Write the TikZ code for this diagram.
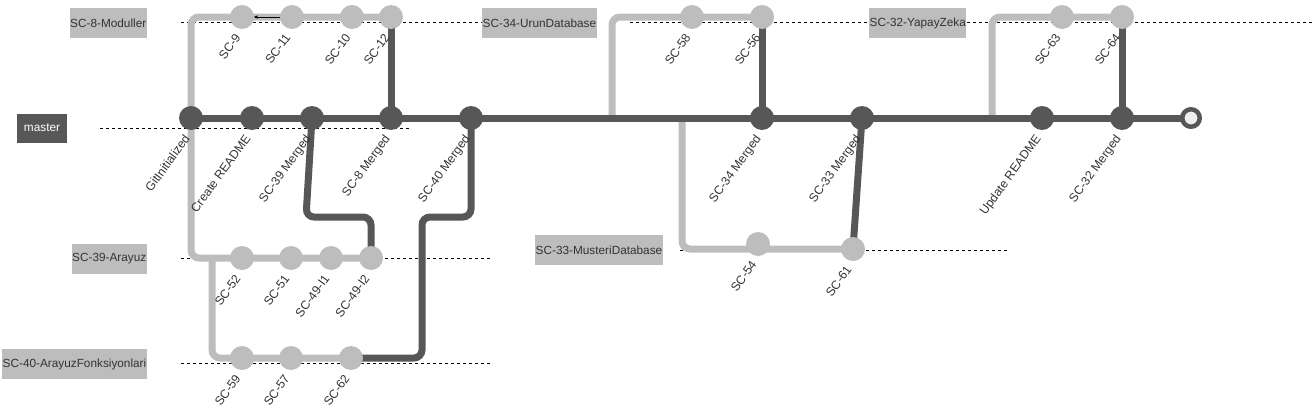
\documentclass[tikz,border=0pt]{standalone}
\usepackage{fontspec}
\setmainfont{Liberation Sans}
\usepackage{tikz}
\usetikzlibrary{arrows, backgrounds, positioning}

\definecolor{darkgit}{HTML}{575757}
\definecolor{lightgit}{HTML}{BDBDBD}
\definecolor{headfill}{HTML}{EEEEEE}
\definecolor{txtgray}{HTML}{333333}

\begin{document}
\begin{tikzpicture}[x=1pt,y=-1pt,>=stealth',line join=round]
\tikzstyle{commit}=[circle,fill=darkgit,draw=none,minimum size=24pt,inner sep=0pt]
\tikzstyle{bcommit}=[circle,fill=lightgit,draw=none,minimum size=24pt,inner sep=0pt]
\tikzstyle{lbl}=[rotate=54,anchor=north east,inner sep=1pt,text=txtgray,font=\fontsize{12.2pt}{14}\selectfont]
\tikzstyle{brbox}=[fill=lightgit,minimum height=30pt,inner xsep=0.5pt,text=txtgray]
\tikzstyle{guide}=[dash pattern=on 3pt off 3pt,line width=0.8pt,black]
\tikzstyle{mainline}=[line width=7pt,darkgit]
\tikzstyle{mline}=[line width=7pt,darkgit,rounded corners=8pt]
\tikzstyle{bline}=[line width=7pt,lightgit,rounded corners=8pt]
\tikzset{font=\fontsize{11.8pt}{14}\selectfont}

\useasboundingbox (0,0) rectangle (1312,407);

        % branch names
        \node[fill=darkgit,text=white,minimum height=29pt,minimum width=50pt]  (bm)  at (42,128)  {master};
        \node[brbox, anchor=east]                (b8)  at (147,23)   {SC-8-Moduller};
        \node[brbox, anchor=east]                (b39) at (147,259)  {SC-39-Arayuz};
        \node[brbox, anchor=east]                (b40) at (147,364)  {SC-40-ArayuzFonksiyonlari};
        \node[brbox, anchor=west]                (b34) at (482,23)   {SC-34-UrunDatabase};
        \node[brbox, anchor=west]                (b33) at (535,250)  {SC-33-MusteriDatabase};
        \node[brbox, anchor=west]                (b32) at (869,23)   {SC-32-YapayZeka};

        % master
        \node[commit]                            (m0)  at (191,118) {};
        \node[commit]                            (m1)  [right of=m0, node distance=61pt]  {};
        \node[commit]                            (m2)  [right of=m1, node distance=60pt]  {};
        \node[commit]                            (m3)  [right of=m2, node distance=79pt]  {};
        \node[commit]                            (m4)  [right of=m3, node distance=80pt]  {};
        \node[commit]                            (m5)  [right of=m4, node distance=291pt] {};
        \node[commit]                            (m6)  [right of=m5, node distance=100pt] {};
        \node[commit]                            (m7)  [right of=m6, node distance=180pt] {};
        \node[commit]                            (m8)  [right of=m7, node distance=80pt]  {};
        \node[circle,fill=headfill,draw=darkgit,line width=4.5pt,minimum size=17.5pt,inner sep=0pt] (hd) [right of=m8, node distance=69pt] {};

        % SC-8
        \node[bcommit]                           (s9)  at (242,17) {};
        \node[bcommit]                           (s11) [right of=s9,  node distance=50pt] {};
        \node[bcommit]                           (s10) [right of=s11, node distance=60pt] {};
        \node[bcommit]                           (s12) [right of=s10, node distance=39pt] {};
        % SC-39
        \node[bcommit]                           (s52) at (242,258) {};
        \node[bcommit]                           (s51) [right of=s52, node distance=49pt] {};
        \node[bcommit]                           (i1)  [right of=s51, node distance=40pt] {};
        \node[bcommit]                           (i2)  [right of=i1,  node distance=40pt] {};
        % SC-40
        \node[bcommit]                           (s59) at (242,358) {};
        \node[bcommit]                           (s57) [right of=s59, node distance=49pt] {};
        \node[bcommit]                           (s62) [right of=s57, node distance=60pt] {};
        % SC-34
        \node[bcommit]                           (s58) at (692,17) {};
        \node[bcommit]                           (s56) [right of=s58, node distance=70pt] {};
        % SC-33
        \node[bcommit]                           (s54) at (758,244) {};
        \node[bcommit]                           (s61) at (853,249) {};
        % SC-32
        \node[bcommit]                           (s63) at (1062,17) {};
        \node[bcommit]                           (s64) [right of=s63, node distance=60pt] {};

        \coordinate (f40) at (212,258);
        \coordinate (j39) at (306,217);
        \coordinate (j40) at (422,217);
        \coordinate (f34) at (612,118);
        \coordinate (f33) at (682,118);
        \coordinate (f32) at (992,118);

        % commit messages
        \node[lbl] (lm0) at ([shift={(-8pt,-14pt)}]m0.center) {GitInitialized};
        \node[lbl] (lm1) at ([shift={(-8pt,-14pt)}]m1.center) {Create README};
        \node[lbl] (lm2) at ([shift={(-8pt,-14pt)}]m2.center) {SC-39 Merged};
        \node[lbl] (lm3) at ([shift={(-8pt,-14pt)}]m3.center) {SC-8 Merged};
        \node[lbl] (lm4) at ([shift={(-8pt,-14pt)}]m4.center) {SC-40 Merged};
        \node[lbl] (lm5) at ([shift={(-8pt,-14pt)}]m5.center) {SC-34 Merged};
        \node[lbl] (lm6) at ([shift={(-8pt,-14pt)}]m6.center) {SC-33 Merged};
        \node[lbl] (lm7) at ([shift={(-8pt,-14pt)}]m7.center) {Update README};
        \node[lbl] (lm8) at ([shift={(-8pt,-14pt)}]m8.center) {SC-32 Merged};
        \node[lbl] (ls9)  at ([shift={(-8pt,-14pt)}]s9.center)  {SC-9};
        \node[lbl] (ls11) at ([shift={(-8pt,-14pt)}]s11.center) {SC-11};
        \node[lbl] (ls10) at ([shift={(-8pt,-14pt)}]s10.center) {SC-10};
        \node[lbl] (ls12) at ([shift={(-8pt,-14pt)}]s12.center) {SC-12};
        \node[lbl] (ls52) at ([shift={(-8pt,-14pt)}]s52.center) {SC-52};
        \node[lbl] (ls51) at ([shift={(-8pt,-14pt)}]s51.center) {SC-51};
        \node[lbl] (li1)  at ([shift={(-8pt,-14pt)}]i1.center)  {SC-49-I1};
        \node[lbl] (li2)  at ([shift={(-8pt,-14pt)}]i2.center)  {SC-49-I2};
        \node[lbl] (ls59) at ([shift={(-8pt,-14pt)}]s59.center) {SC-59};
        \node[lbl] (ls57) at ([shift={(-8pt,-14pt)}]s57.center) {SC-57};
        \node[lbl] (ls62) at ([shift={(-8pt,-14pt)}]s62.center) {SC-62};
        \node[lbl] (ls58) at ([shift={(-8pt,-14pt)}]s58.center) {SC-58};
        \node[lbl] (ls56) at ([shift={(-8pt,-14pt)}]s56.center) {SC-56};
        \node[lbl] (ls54) at ([shift={(-8pt,-14pt)}]s54.center) {SC-54};
        \node[lbl] (ls61) at ([shift={(-8pt,-14pt)}]s61.center) {SC-61};
        \node[lbl] (ls63) at ([shift={(-8pt,-14pt)}]s63.center) {SC-63};
        \node[lbl] (ls64) at ([shift={(-8pt,-14pt)}]s64.center) {SC-64};

        \begin{pgfonlayer}{background}
        % guides
        \draw[guide] (100,128) -- (410,128);
        \draw[guide] (181,22)  -- (482,22);
        \draw[guide] (630,22)  -- (869,22);
        \draw[guide] (967,22)  -- (1312,22);
        \draw[guide] (181,258) -- (490,258);
        \draw[guide] (181,363) -- (490,363);
        \draw[guide] (680,250) -- (1008,250);

        % branches
        \draw[bline] (m0.center) |- (s9.center) -- (s12.center);
        \draw[bline] (m0.center) |- (i2.center);
        \draw[bline] (f40) |- (s62.center);
        \draw[bline] (f34) |- (s56.center);
        \draw[bline] (f33) |- (s61.center);
        \draw[bline] (f32) |- (s64.center);

        % merges
        \draw[mline] (s12.center) -- (m3.center);
        \draw[mline] (i2.center) |- (j39) -- (m2.center);
        \draw[mline] (s62.center) -| (j40) -| (m4.center);
        \draw[mline] (s56.center) -- (m5.center);
        \draw[mline] (s61.center) -- (m6.center);
        \draw[mline] (s64.center) -- (m8.center);

        \draw[mainline] (m0.center) -- (hd.center);
        \end{pgfonlayer}

        \path[->,black,thin]
        (s11)   edge node {}          (s9)
        ; %end path

\end{tikzpicture}
\end{document}
